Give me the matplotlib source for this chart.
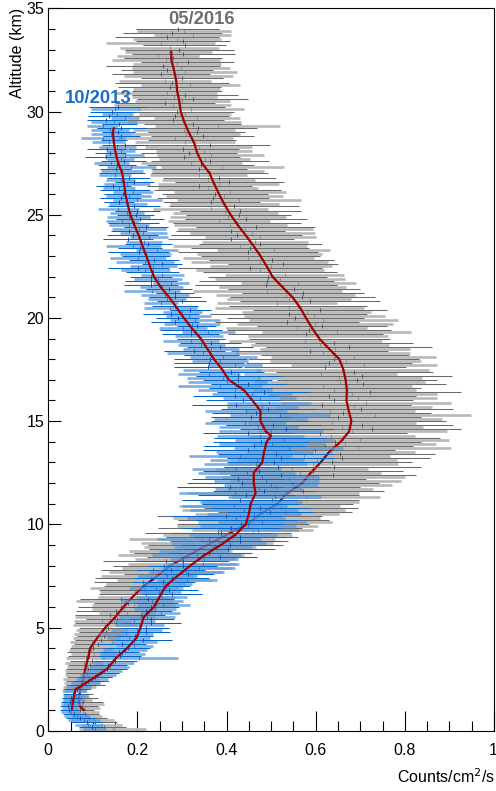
import numpy as np
import matplotlib
matplotlib.use("Agg")
import matplotlib.pyplot as plt
import matplotlib.transforms as mtransforms
from matplotlib.ticker import MultipleLocator, FuncFormatter

plt.rcParams['font.family'] = ['Liberation Sans', 'DejaVu Sans']

# ---------------- data: 05/2016 flight (0.1 km bins from 0.1 km) ----------------
rate_2016 = [
    0.145, 0.125, 0.120, 0.105, 0.100, 0.092, 0.085, 0.082, 0.078, 0.072,
    0.082, 0.072, 0.076, 0.078, 0.066, 0.074, 0.062, 0.068, 0.058, 0.064,
    0.070, 0.084, 0.076, 0.088, 0.072, 0.092, 0.078, 0.086, 0.080, 0.090,
    0.086, 0.094, 0.080, 0.098, 0.084, 0.092, 0.102, 0.088, 0.096, 0.100,
    0.100, 0.112, 0.098, 0.118, 0.108, 0.124, 0.114, 0.130, 0.120, 0.134,
    0.127, 0.151, 0.120, 0.154, 0.149, 0.138, 0.177, 0.151, 0.170, 0.164,
    0.192, 0.178, 0.171, 0.163, 0.198, 0.220, 0.195, 0.217, 0.192, 0.214,
    0.220, 0.212, 0.260, 0.231, 0.223, 0.264, 0.263, 0.234, 0.289, 0.260,
    0.300, 0.264, 0.308, 0.343, 0.298, 0.324, 0.296, 0.367, 0.340, 0.375,
    0.356, 0.405, 0.344, 0.413, 0.402, 0.380, 0.459, 0.408, 0.447, 0.436,
    0.486, 0.460, 0.444, 0.429, 0.491, 0.531, 0.483, 0.522, 0.474, 0.514,
    0.520, 0.501, 0.579, 0.524, 0.506, 0.572, 0.565, 0.511, 0.600, 0.546,
    0.600, 0.539, 0.595, 0.638, 0.565, 0.595, 0.547, 0.642, 0.594, 0.637,
    0.603, 0.659, 0.573, 0.655, 0.634, 0.599, 0.695, 0.621, 0.665, 0.643,
    0.700, 0.661, 0.635, 0.610, 0.682, 0.726, 0.659, 0.703, 0.636, 0.680,
    0.679, 0.650, 0.733, 0.662, 0.633, 0.701, 0.686, 0.615, 0.712, 0.641,
    0.695, 0.630, 0.682, 0.721, 0.642, 0.668, 0.616, 0.707, 0.654, 0.693,
    0.653, 0.703, 0.611, 0.687, 0.660, 0.620, 0.709, 0.630, 0.667, 0.640,
    0.685, 0.644, 0.616, 0.587, 0.643, 0.674, 0.610, 0.641, 0.577, 0.608,
    0.605, 0.578, 0.647, 0.584, 0.557, 0.614, 0.599, 0.536, 0.617, 0.554,
    0.597, 0.539, 0.580, 0.610, 0.541, 0.560, 0.513, 0.587, 0.540, 0.570,
    0.533, 0.572, 0.491, 0.552, 0.526, 0.488, 0.561, 0.490, 0.519, 0.492,
    0.530, 0.498, 0.475, 0.452, 0.500, 0.527, 0.474, 0.501, 0.449, 0.476,
    0.473, 0.449, 0.506, 0.453, 0.430, 0.476, 0.463, 0.410, 0.476, 0.423,
    0.458, 0.409, 0.442, 0.465, 0.408, 0.423, 0.383, 0.443, 0.403, 0.427,
    0.397, 0.431, 0.365, 0.417, 0.396, 0.366, 0.427, 0.370, 0.395, 0.374,
    0.408, 0.379, 0.359, 0.339, 0.382, 0.406, 0.359, 0.384, 0.337, 0.362,
    0.359, 0.338, 0.390, 0.342, 0.321, 0.363, 0.351, 0.304, 0.364, 0.316,
    0.350, 0.303, 0.337, 0.362, 0.307, 0.323, 0.285, 0.346, 0.308, 0.333,
    0.305, 0.335, 0.380, 0.324, 0.306, 0.280, 0.334, 0.285, 0.307, 0.289,
    0.320, 0.295, 0.279, 0.262, 0.301, 0.324, 0.283, 0.307, 0.266, 0.289,
    0.288, 0.272, 0.319, 0.278, 0.262, 0.301, 0.292, 0.252, 0.307, 0.266,
    0.298, 0.257, 0.289, 0.313, 0.264, 0.280, 0.247, 0.303, 0.270, 0.294,
    0.272, 0.306, 0.252, 0.302, 0.288, 0.266, 0.324, 0.278, 0.304, 0.290,
]
err_2016 = [
    0.075, 0.050, 0.045, 0.050, 0.048, 0.040, 0.035, 0.032, 0.035, 0.030,
    0.035, 0.040, 0.048, 0.045, 0.032, 0.038, 0.030, 0.032, 0.028, 0.032,
    0.038, 0.044, 0.040, 0.048, 0.040, 0.050, 0.040, 0.046, 0.042, 0.050,
    0.044, 0.050, 0.042, 0.050, 0.044, 0.048, 0.052, 0.046, 0.050, 0.052,
    0.050, 0.055, 0.050, 0.058, 0.052, 0.060, 0.056, 0.062, 0.058, 0.064,
    0.072, 0.091, 0.063, 0.070, 0.090, 0.079, 0.063, 0.088, 0.072, 0.097,
    0.093, 0.076, 0.108, 0.091, 0.087, 0.106, 0.078, 0.103, 0.099, 0.088,
    0.090, 0.110, 0.106, 0.126, 0.104, 0.094, 0.126, 0.116, 0.124, 0.114,
    0.122, 0.142, 0.114, 0.122, 0.142, 0.132, 0.116, 0.142, 0.126, 0.152,
    0.148, 0.132, 0.164, 0.148, 0.144, 0.164, 0.136, 0.162, 0.158, 0.148,
    0.150, 0.169, 0.165, 0.184, 0.162, 0.151, 0.183, 0.172, 0.180, 0.169,
    0.176, 0.195, 0.166, 0.173, 0.192, 0.181, 0.164, 0.189, 0.172, 0.197,
    0.192, 0.174, 0.205, 0.187, 0.182, 0.200, 0.171, 0.195, 0.190, 0.178,
    0.179, 0.198, 0.193, 0.212, 0.189, 0.178, 0.209, 0.198, 0.205, 0.194,
    0.200, 0.218, 0.188, 0.194, 0.212, 0.200, 0.182, 0.206, 0.188, 0.212,
    0.205, 0.186, 0.215, 0.196, 0.189, 0.206, 0.175, 0.198, 0.191, 0.178,
    0.178, 0.195, 0.189, 0.206, 0.182, 0.169, 0.199, 0.186, 0.192, 0.179,
    0.185, 0.202, 0.172, 0.177, 0.195, 0.182, 0.164, 0.187, 0.169, 0.192,
    0.185, 0.166, 0.195, 0.176, 0.169, 0.186, 0.155, 0.178, 0.171, 0.158,
    0.157, 0.174, 0.167, 0.184, 0.159, 0.146, 0.175, 0.162, 0.167, 0.154,
    0.159, 0.176, 0.145, 0.150, 0.167, 0.154, 0.135, 0.158, 0.139, 0.162,
    0.156, 0.137, 0.167, 0.148, 0.142, 0.159, 0.129, 0.152, 0.146, 0.133,
    0.133, 0.150, 0.144, 0.161, 0.137, 0.124, 0.154, 0.141, 0.147, 0.134,
    0.140, 0.157, 0.127, 0.132, 0.150, 0.137, 0.119, 0.142, 0.124, 0.147,
    0.141, 0.122, 0.152, 0.133, 0.127, 0.144, 0.114, 0.137, 0.131, 0.118,
    0.118, 0.135, 0.129, 0.146, 0.122, 0.109, 0.139, 0.126, 0.132, 0.119,
    0.125, 0.142, 0.112, 0.117, 0.135, 0.122, 0.104, 0.127, 0.109, 0.132,
    0.126, 0.108, 0.138, 0.120, 0.114, 0.132, 0.102, 0.126, 0.120, 0.108,
    0.108, 0.125, 0.119, 0.136, 0.112, 0.099, 0.129, 0.116, 0.122, 0.109,
    0.115, 0.133, 0.140, 0.109, 0.127, 0.115, 0.097, 0.121, 0.103, 0.127,
    0.119, 0.101, 0.131, 0.113, 0.107, 0.125, 0.095, 0.119, 0.113, 0.101,
    0.098, 0.116, 0.110, 0.128, 0.104, 0.092, 0.122, 0.110, 0.116, 0.104,
    0.110, 0.128, 0.098, 0.104, 0.122, 0.110, 0.092, 0.116, 0.098, 0.122,
    0.111, 0.093, 0.123, 0.105, 0.099, 0.117, 0.087, 0.111, 0.105, 0.093,
]

# ---------------- data: 10/2013 flight (0.1 km bins from 0.1 km) ----------------
rate_2013 = [
    0.104, 0.098, 0.090, 0.086, 0.080, 0.072, 0.064, 0.058, 0.050, 0.046,
    0.050, 0.044, 0.054, 0.048, 0.058, 0.052, 0.062, 0.056, 0.060, 0.064,
    0.068, 0.076, 0.084, 0.090, 0.098, 0.104, 0.112, 0.118, 0.124, 0.132,
    0.138, 0.134, 0.146, 0.150, 0.204, 0.160, 0.166, 0.158, 0.172, 0.178,
    0.192, 0.165, 0.192, 0.213, 0.180, 0.195, 0.174, 0.219, 0.198, 0.219,
    0.204, 0.231, 0.192, 0.231, 0.222, 0.207, 0.252, 0.219, 0.240, 0.231,
    0.258, 0.242, 0.233, 0.223, 0.256, 0.277, 0.249, 0.270, 0.242, 0.263,
    0.269, 0.258, 0.312, 0.277, 0.267, 0.313, 0.310, 0.276, 0.337, 0.303,
    0.346, 0.303, 0.349, 0.386, 0.333, 0.360, 0.327, 0.403, 0.370, 0.407,
    0.382, 0.431, 0.360, 0.431, 0.415, 0.388, 0.470, 0.410, 0.448, 0.432,
    0.480, 0.445, 0.422, 0.399, 0.461, 0.498, 0.439, 0.476, 0.417, 0.454,
    0.455, 0.429, 0.508, 0.444, 0.418, 0.484, 0.472, 0.407, 0.499, 0.435,
    0.489, 0.426, 0.480, 0.521, 0.445, 0.472, 0.422, 0.515, 0.465, 0.506,
    0.468, 0.521, 0.431, 0.510, 0.485, 0.447, 0.539, 0.462, 0.502, 0.477,
    0.529, 0.497, 0.476, 0.448, 0.500, 0.534, 0.471, 0.505, 0.442, 0.476,
    0.476, 0.454, 0.520, 0.465, 0.443, 0.494, 0.480, 0.421, 0.495, 0.436,
    0.474, 0.420, 0.457, 0.483, 0.419, 0.432, 0.385, 0.449, 0.402, 0.425,
    0.393, 0.426, 0.360, 0.411, 0.390, 0.359, 0.419, 0.361, 0.385, 0.363,
    0.393, 0.366, 0.347, 0.328, 0.365, 0.386, 0.343, 0.364, 0.321, 0.342,
    0.338, 0.320, 0.359, 0.320, 0.302, 0.333, 0.322, 0.284, 0.329, 0.290,
    0.315, 0.276, 0.301, 0.319, 0.274, 0.284, 0.253, 0.299, 0.267, 0.285,
    0.261, 0.285, 0.233, 0.271, 0.254, 0.230, 0.275, 0.230, 0.247, 0.230,
    0.256, 0.234, 0.218, 0.202, 0.236, 0.255, 0.218, 0.237, 0.201, 0.220,
    0.218, 0.203, 0.243, 0.206, 0.191, 0.224, 0.215, 0.178, 0.226, 0.189,
    0.213, 0.181, 0.203, 0.219, 0.181, 0.192, 0.166, 0.206, 0.180, 0.196,
    0.177, 0.200, 0.157, 0.192, 0.179, 0.159, 0.200, 0.163, 0.180, 0.167,
    0.190, 0.172, 0.159, 0.146, 0.176, 0.193, 0.162, 0.180, 0.149, 0.166,
    0.165, 0.151, 0.186, 0.154, 0.141, 0.169, 0.162, 0.130, 0.171, 0.139,
    0.162, 0.132, 0.155, 0.173, 0.136, 0.148, 0.123, 0.164, 0.140, 0.157,
    0.139, 0.164, 0.122, 0.159, 0.147, 0.130, 0.172, 0.137, 0.155, 0.144,
    0.150, 0.156,
]
err_2013 = [
    0.026, 0.028, 0.030, 0.034, 0.036, 0.032, 0.028, 0.024, 0.022, 0.020,
    0.020, 0.018, 0.022, 0.020, 0.024, 0.022, 0.026, 0.022, 0.024, 0.026,
    0.028, 0.030, 0.032, 0.034, 0.036, 0.038, 0.040, 0.040, 0.042, 0.044,
    0.044, 0.042, 0.046, 0.048, 0.086, 0.048, 0.050, 0.046, 0.050, 0.050,
    0.042, 0.055, 0.051, 0.064, 0.048, 0.041, 0.061, 0.054, 0.058, 0.051,
    0.055, 0.067, 0.047, 0.051, 0.063, 0.055, 0.043, 0.059, 0.047, 0.063,
    0.060, 0.049, 0.069, 0.058, 0.055, 0.067, 0.048, 0.065, 0.061, 0.054,
    0.054, 0.071, 0.067, 0.084, 0.066, 0.058, 0.085, 0.076, 0.083, 0.075,
    0.082, 0.099, 0.076, 0.083, 0.100, 0.092, 0.079, 0.101, 0.088, 0.110,
    0.106, 0.092, 0.117, 0.103, 0.099, 0.115, 0.091, 0.111, 0.107, 0.098,
    0.099, 0.114, 0.110, 0.125, 0.106, 0.096, 0.122, 0.112, 0.118, 0.109,
    0.114, 0.129, 0.104, 0.109, 0.124, 0.114, 0.099, 0.119, 0.104, 0.124,
    0.118, 0.103, 0.128, 0.113, 0.109, 0.124, 0.099, 0.120, 0.115, 0.105,
    0.105, 0.120, 0.115, 0.129, 0.109, 0.099, 0.123, 0.113, 0.118, 0.107,
    0.111, 0.125, 0.098, 0.102, 0.116, 0.105, 0.089, 0.107, 0.091, 0.110,
    0.104, 0.089, 0.113, 0.097, 0.092, 0.106, 0.080, 0.099, 0.094, 0.083,
    0.082, 0.096, 0.090, 0.104, 0.083, 0.071, 0.095, 0.084, 0.088, 0.077,
    0.081, 0.095, 0.069, 0.073, 0.087, 0.076, 0.060, 0.079, 0.063, 0.082,
    0.075, 0.062, 0.081, 0.068, 0.063, 0.074, 0.053, 0.068, 0.063, 0.054,
    0.053, 0.064, 0.059, 0.070, 0.053, 0.044, 0.063, 0.054, 0.057, 0.048,
    0.051, 0.063, 0.043, 0.047, 0.059, 0.051, 0.039, 0.055, 0.043, 0.058,
    0.054, 0.043, 0.063, 0.052, 0.048, 0.061, 0.041, 0.058, 0.054, 0.047,
    0.048, 0.060, 0.056, 0.068, 0.052, 0.044, 0.065, 0.057, 0.062, 0.054,
    0.057, 0.068, 0.047, 0.050, 0.062, 0.053, 0.040, 0.056, 0.043, 0.058,
    0.053, 0.041, 0.061, 0.049, 0.045, 0.057, 0.037, 0.053, 0.049, 0.041,
    0.038, 0.050, 0.046, 0.058, 0.042, 0.034, 0.054, 0.046, 0.050, 0.042,
    0.044, 0.056, 0.036, 0.040, 0.052, 0.044, 0.032, 0.048, 0.036, 0.052,
    0.047, 0.035, 0.055, 0.043, 0.039, 0.051, 0.031, 0.047, 0.043, 0.035,
    0.033, 0.045, 0.041, 0.053, 0.037, 0.029, 0.049, 0.041, 0.045, 0.037,
    0.043, 0.055, 0.035, 0.039, 0.051, 0.043, 0.031, 0.047, 0.035, 0.051,
    0.055, 0.065,
]

# ---------------- smoothed profiles ----------------
fit_alt_2016 = [1.0, 1.2, 1.5, 2.0, 2.5, 3.0, 3.5, 4.0, 4.5, 5.0, 5.5, 6.0, 6.5, 7.0,
                7.5, 8.0, 8.5, 9.0, 9.5, 10.0, 10.5, 11.0, 11.5, 12.0, 12.5, 13.0,
                13.5, 14.0, 14.5, 15.0, 15.5, 16.0, 16.5, 17.0, 17.5, 18.0, 18.5,
                19.0, 19.5, 20.0, 20.5, 21.0, 21.5, 22.0, 22.5, 23.0, 23.5, 24.0,
                24.5, 25.0, 25.5, 26.0, 26.5, 27.0, 27.5, 28.0, 28.5, 29.0, 29.5,
                30.0, 30.5, 31.0, 31.5, 32.0, 32.5, 32.9]
fit_rate_2016 = [0.080, 0.070, 0.068, 0.072, 0.078, 0.083, 0.089, 0.094, 0.110, 0.128,
                 0.150, 0.169, 0.190, 0.214, 0.245, 0.274, 0.315, 0.357, 0.400, 0.446,
                 0.476, 0.514, 0.536, 0.570, 0.589, 0.611, 0.630, 0.656, 0.675, 0.680,
                 0.674, 0.669, 0.670, 0.667, 0.662, 0.653, 0.630, 0.608, 0.592, 0.578,
                 0.565, 0.548, 0.525, 0.503, 0.490, 0.476, 0.460, 0.443, 0.425, 0.409,
                 0.395, 0.383, 0.372, 0.362, 0.345, 0.334, 0.327, 0.315, 0.305, 0.297,
                 0.294, 0.289, 0.287, 0.282, 0.276, 0.276]
fit_alt_2013 = [1.05, 1.5, 2.0, 2.5, 3.0, 3.5, 4.0, 4.5, 5.0, 5.5, 6.0, 6.5, 7.0, 7.5,
                8.0, 8.5, 9.0, 9.5, 10.0, 10.5, 11.0, 11.5, 12.0, 12.5, 13.0, 13.5,
                14.0, 14.3, 14.5, 15.0, 15.5, 16.0, 16.5, 17.0, 17.5, 18.0, 18.5, 19.0,
                19.5, 20.0, 20.5, 21.0, 21.5, 22.0, 22.5, 23.0, 23.5, 24.0, 24.5, 25.0,
                25.5, 26.0, 26.5, 27.0, 27.5, 28.0, 28.5, 29.0, 29.2]
fit_rate_2013 = [0.053, 0.056, 0.061, 0.098, 0.132, 0.151, 0.177, 0.198, 0.207, 0.214,
                 0.237, 0.250, 0.263, 0.290, 0.319, 0.350, 0.387, 0.420, 0.443, 0.450,
                 0.454, 0.465, 0.461, 0.461, 0.480, 0.484, 0.490, 0.500, 0.488, 0.476,
                 0.476, 0.458, 0.439, 0.405, 0.390, 0.372, 0.357, 0.342, 0.322, 0.304,
                 0.288, 0.271, 0.252, 0.237, 0.228, 0.220, 0.211, 0.203, 0.193, 0.184,
                 0.178, 0.173, 0.170, 0.166, 0.157, 0.151, 0.147, 0.145, 0.147]

labels = ["05/2016", "10/2013"]

# ---------------- figure ----------------
W, H = 496, 791
fig = plt.figure(figsize=(W / 100, H / 100), dpi=100)
x0, x1 = 48.3, 494.0
y0, y1 = 730.7, 8.3
ax = fig.add_axes([x0 / W, 1 - y0 / H, (x1 - x0) / W, (y0 - y1) / H])
ax.set_xlim(0, 1)
ax.set_ylim(0, 35)


def draw_series(rate, err, light, light_alpha, dark, mk_light, mk_dark):
    rate = np.asarray(rate)
    err = np.asarray(err)
    alt = np.round(0.1 * np.arange(1, len(rate) + 1), 1)
    for sl, col, lw, a, mc in [(slice(0, None, 2), light, 1.9, light_alpha, mk_light),
                               (slice(1, None, 2), dark, 0.75, 1.0, mk_dark)]:
        ax.hlines(alt[sl], rate[sl] - err[sl], rate[sl] + err[sl],
                  colors=col, lw=lw, alpha=a)
        ax.plot(rate[sl], alt[sl], ls='none', marker='|', ms=2.6, mew=0.7,
                color=mc, alpha=a)


red = '#a30000'
draw_series(rate_2016, err_2016, '#b8b8b8', 1.0, '#6a6a6a', '#909090', '#555555')
ax.plot(fit_rate_2016, fit_alt_2016, color=red, lw=1.6, solid_capstyle='round')
draw_series(rate_2013, err_2013, '#5a9be0', 0.8, '#0066cc', '#2a6cc0', '#0050b0')
ax.plot(fit_rate_2013, fit_alt_2013, color=red, lw=1.6, solid_capstyle='round')

ax.text(0.344, 34.45, labels[0], color='#6e6e6e', fontsize=13.3, fontweight='bold',
        ha='center', va='center')
ax.text(0.111, 30.64, labels[1], color='#1a6ec8', fontsize=13.3, fontweight='bold',
        ha='center', va='center')

# axes styling
for s in ax.spines.values():
    s.set_linewidth(0.8)
ax.xaxis.set_major_locator(MultipleLocator(0.2))
ax.xaxis.set_minor_locator(MultipleLocator(0.05))
ax.yaxis.set_major_locator(MultipleLocator(5))
ax.yaxis.set_minor_locator(MultipleLocator(1))
ax.xaxis.set_major_formatter(FuncFormatter(lambda v, p: '%g' % round(v, 2)))
ax.tick_params(axis='both', which='both', direction='in', top=False, right=False,
               width=0.8, labelsize=11.5)
ax.tick_params(axis='y', which='major', length=9.4, pad=3)
ax.tick_params(axis='y', which='minor', length=5)
ax.tick_params(axis='x', which='major', length=14.4, pad=9)
ax.tick_params(axis='x', which='minor', length=7.2)

fig.text(18 / W, 1 - 8 / H, 'Altitude (km)', rotation=90, ha='center', va='top',
         fontsize=11.5)
fig.text(495 / W, 1 - 777 / H, 'Counts/cm$^{2}$/s', ha='right', va='center',
         fontsize=11.5)

# keep the "1" tick label inside the canvas
fig.canvas.draw()
for lab in ax.get_xticklabels():
    if lab.get_text() == '1':
        lab.set_horizontalalignment('right')
        lab.set_transform(lab.get_transform() + mtransforms.ScaledTranslation(
            3.5 / 100, 0, fig.dpi_scale_trans))

fig.savefig('out.png', dpi=100)
